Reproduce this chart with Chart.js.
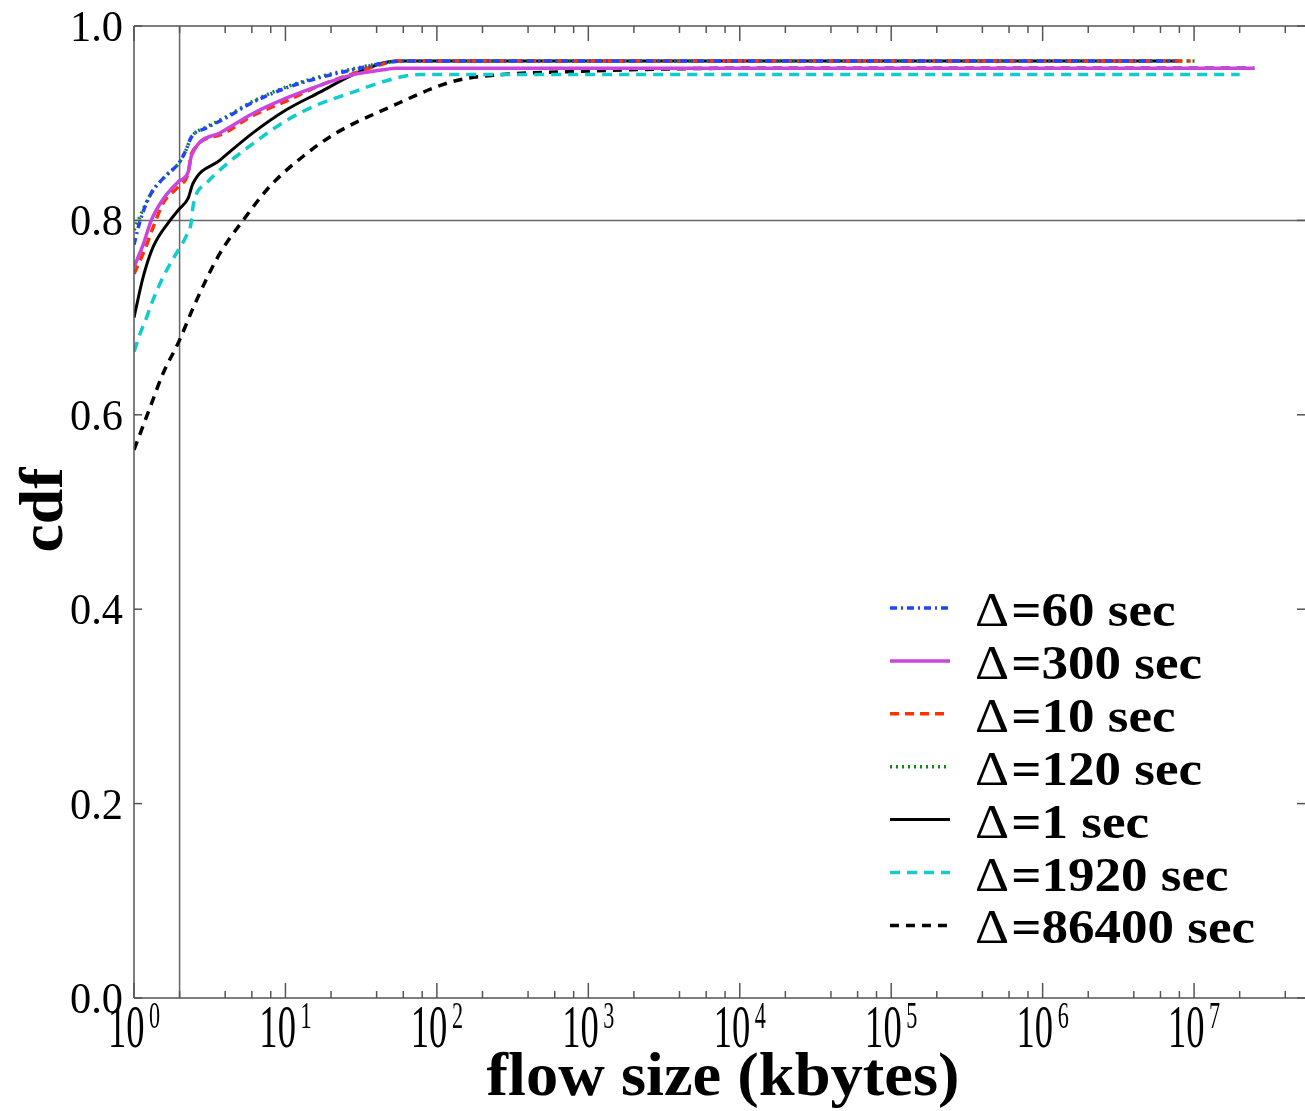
<!DOCTYPE html>
<html>
<head>
<meta charset="utf-8">
<script src="https://cdn.jsdelivr.net/npm/chart.js@4"></script>
<style>
  html, body { margin: 0; padding: 0; background: #fff; }
  #wrap { width: 1305px; height: 1111px; position: relative; }
</style>
</head>
<body>
<div id="wrap"><canvas id="cdfChart"></canvas></div>
<script>
// ---- data (flow size in kbytes, cdf) ----
const sizes60 = [1, 1.1, 1.3, 1.6, 2.0, 2.2, 2.4, 3.0, 4.0, 6.0, 10, 17, 28, 45, 60, 7.5e6];
const cdf60   = [0.775, 0.80, 0.828, 0.845, 0.860, 0.872, 0.886, 0.895, 0.905, 0.921, 0.936, 0.947, 0.955, 0.962, 0.964, 0.964];

const sizes300 = [1, 1.15, 1.3, 1.56, 1.97, 2.28, 2.4, 3.7, 6.1, 10.2, 16.9, 28, 44, 55, 2.5e7];
const cdf300   = [0.752, 0.775, 0.80, 0.822, 0.840, 0.850, 0.867, 0.890, 0.910, 0.926, 0.939, 0.950, 0.955, 0.9565, 0.9565];

const sizes10 = [1, 1.15, 1.34, 1.56, 1.97, 2.28, 2.4, 3.7, 6.1, 10.2, 16.9, 28, 42, 55, 9.5e6];
const cdf10   = [0.745, 0.766, 0.793, 0.818, 0.835, 0.849, 0.869, 0.888, 0.908, 0.923, 0.939, 0.951, 0.960, 0.964, 0.964];

const sizes120 = [1, 1.1, 1.3, 1.6, 2.0, 2.2, 2.4, 3.0, 4.0, 6.0, 10, 17, 28, 45, 60, 1.05e7];
const cdf120   = [0.79, 0.805, 0.828, 0.845, 0.860, 0.872, 0.886, 0.896, 0.906, 0.922, 0.937, 0.948, 0.956, 0.962, 0.964, 0.964];

const sizes1 = [1, 1.15, 1.34, 1.73, 1.97, 2.28, 2.45, 3.7, 6.1, 10.2, 16.9, 28, 44, 55, 8e6];
const cdf1   = [0.70, 0.742, 0.773, 0.80, 0.811, 0.823, 0.838, 0.862, 0.890, 0.914, 0.932, 0.950, 0.962, 0.964, 0.964];

const sizes1920 = [1, 1.1, 1.21, 1.31, 1.56, 1.97, 2.2, 2.4, 2.45, 3.0, 3.7, 6.1, 10.2, 16.9, 28, 47, 77, 2e7];
const cdf1920   = [0.665, 0.684, 0.70, 0.715, 0.742, 0.770, 0.783, 0.80, 0.814, 0.838, 0.852, 0.879, 0.903, 0.920, 0.932, 0.944, 0.950, 0.950];

const sizes86400 = [1, 1.1, 1.28, 1.56, 1.96, 2.59, 3.69, 5.25, 7.89, 13.1, 21.7, 46.5, 128, 270, 750, 2650, 1e4, 2.5e7];
const cdf86400   = [0.564, 0.581, 0.608, 0.643, 0.674, 0.718, 0.766, 0.80, 0.835, 0.866, 0.89, 0.915, 0.943, 0.950, 0.953, 0.9555, 0.9565, 0.9565];

const seriesLabels = ['Δ=60 sec', 'Δ=300 sec', 'Δ=10 sec', 'Δ=120 sec', 'Δ=1 sec', 'Δ=1920 sec', 'Δ=86400 sec'];

// axis ticks
const xDecades = [0, 1, 2, 3, 4, 5, 6, 7];
const xMinorMult = [2, 4, 6, 8];
const yTicks = [0, 0.2, 0.4, 0.6, 0.8, 1.0];
const yTickLabels = ['0.0', '0.2', '0.4', '0.6', '0.8', '1.0'];
const gridX = [2];
const gridY = [0.8];

function pts(xs, ys) {
  return xs.map((x, i) => ({ x: x, y: ys[i] }));
}

const datasets = [
  { label: seriesLabels[0], data: pts(sizes60, cdf60), borderColor: '#2244ff', borderWidth: 3.5, borderDash: [7, 4, 2, 4] },
  { label: seriesLabels[1], data: pts(sizes300, cdf300), borderColor: '#cc44dd', borderWidth: 3.5, borderDash: [] },
  { label: seriesLabels[2], data: pts(sizes10, cdf10), borderColor: '#ff3300', borderWidth: 3.5, borderDash: [9, 6] },
  { label: seriesLabels[3], data: pts(sizes120, cdf120), borderColor: '#118811', borderWidth: 3.5, borderDash: [2, 4] },
  { label: seriesLabels[4], data: pts(sizes1, cdf1), borderColor: '#000000', borderWidth: 3, borderDash: [] },
  { label: seriesLabels[5], data: pts(sizes1920, cdf1920), borderColor: '#11cccc', borderWidth: 3.5, borderDash: [10, 7] },
  { label: seriesLabels[6], data: pts(sizes86400, cdf86400), borderColor: '#000000', borderWidth: 3.5, borderDash: [9, 7] }
];
datasets.forEach(d => { d.fill = false; d.pointRadius = 0; d.cubicInterpolationMode = 'monotone'; });

const SERIF = '"Liberation Serif", "DejaVu Serif", serif';

function strokeLine(ctx, x1, y1, x2, y2) {
  ctx.beginPath(); ctx.moveTo(x1, y1); ctx.lineTo(x2, y2); ctx.stroke();
}

// draw text squeezed/stretched to a given width
function fitText(ctx, text, x, y, font, width, align) {
  ctx.font = font;
  const sx = width / ctx.measureText(text).width;
  ctx.save();
  ctx.translate(x, y);
  ctx.scale(sx, 1);
  ctx.textAlign = align;
  ctx.fillText(text, 0, 0);
  ctx.restore();
}

const framePlugin = {
  id: 'frame',
  beforeDatasetsDraw(chart) {
    const ctx = chart.ctx, xs = chart.scales.x, ys = chart.scales.y, a = chart.chartArea;
    ctx.save();
    ctx.strokeStyle = '#666';
    ctx.lineWidth = 1.5;
    gridX.forEach(v => { const p = xs.getPixelForValue(v); strokeLine(ctx, p, a.top, p, a.bottom); });
    gridY.forEach(v => { const p = ys.getPixelForValue(v); strokeLine(ctx, a.left, p, a.right, p); });
    ctx.restore();
  },
  afterDatasetsDraw(chart) {
    const ctx = chart.ctx, xs = chart.scales.x, ys = chart.scales.y, a = chart.chartArea;
    ctx.save();
    ctx.strokeStyle = '#555';
    ctx.lineWidth = 1.5;
    // frame: left, top, bottom (no right line)
    strokeLine(ctx, a.left, a.top, a.left, a.bottom);
    strokeLine(ctx, a.left, a.top, a.right, a.top);
    strokeLine(ctx, a.left, a.bottom, a.right, a.bottom);

    // x ticks, top and bottom, pointing inward
    xDecades.forEach(d => {
      const p = xs.getPixelForValue(Math.pow(10, d));
      strokeLine(ctx, p, a.bottom, p, a.bottom - 15);
      strokeLine(ctx, p, a.top, p, a.top + 15);
      xMinorMult.forEach(m => {
        const v = m * Math.pow(10, d);
        if (v > xs.max) return;
        const q = xs.getPixelForValue(v);
        strokeLine(ctx, q, a.bottom, q, a.bottom - 7);
        strokeLine(ctx, q, a.top, q, a.top + 7);
      });
    });
    // y ticks, left and right
    yTicks.forEach(v => {
      const p = ys.getPixelForValue(v);
      strokeLine(ctx, a.left, p, a.left + 8, p);
      strokeLine(ctx, a.right, p, a.right - 8, p);
    });

    ctx.fillStyle = '#000';
    ctx.textBaseline = 'alphabetic';

    // y tick labels
    yTicks.forEach((v, i) => {
      const p = ys.getPixelForValue(v);
      fitText(ctx, yTickLabels[i], a.left - 11, p + 15, '45px ' + SERIF, 53, 'right');
    });

    // x tick labels 10^d
    xDecades.forEach(d => {
      const p = xs.getPixelForValue(Math.pow(10, d));
      ctx.font = '61px ' + SERIF;
      const wBase = ctx.measureText('10').width * 0.6;
      ctx.font = '37px ' + SERIF;
      const wSup = ctx.measureText(String(d)).width * 0.6;
      const start = p - (wBase + 4.5 + wSup) / 2;
      ctx.save(); ctx.translate(start, 1047); ctx.scale(0.6, 1);
      ctx.font = '61px ' + SERIF; ctx.textAlign = 'left'; ctx.fillText('10', 0, 0);
      ctx.restore();
      ctx.save(); ctx.translate(start + wBase + 4.5, 1028); ctx.scale(0.6, 1);
      ctx.font = '37px ' + SERIF; ctx.textAlign = 'left'; ctx.fillText(String(d), 0, 0);
      ctx.restore();
    });

    // axis titles
    fitText(ctx, 'flow size (kbytes)', 723, 1095, 'bold 62px ' + SERIF, 473, 'center');
    ctx.save();
    ctx.translate(62, 510);
    ctx.rotate(-Math.PI / 2);
    fitText(ctx, 'cdf', 0, 0, 'bold 62px ' + SERIF, 85, 'center');
    ctx.restore();

    // legend: thin Delta, rest in bold
    const boldFont = 'bold 48px ' + SERIF;
    const deltaFont = '48px ' + SERIF;
    ctx.font = boldFont;
    const legScale = 277 / ctx.measureText(seriesLabels[6]).width;
    chart.data.datasets.forEach((ds, i) => {
      const y = 608 + i * 52.9;
      ctx.save();
      ctx.strokeStyle = ds.borderColor;
      ctx.lineWidth = ds.borderWidth;
      ctx.setLineDash(ds.borderDash);
      strokeLine(ctx, 890, y, 950, y);
      ctx.restore();
      const head = ds.label.slice(0, 1);
      const rest = ds.label.slice(1);
      ctx.save();
      ctx.translate(975, y + 18);
      ctx.scale(legScale, 1);
      ctx.textAlign = 'left';
      ctx.font = deltaFont;
      ctx.fillText(head, 0, 0);
      const wHead = ctx.measureText(head).width;
      ctx.font = boldFont;
      ctx.fillText(rest, wHead + 2, 0);
      ctx.restore();
    });
    ctx.restore();
  }
};

new Chart(document.getElementById('cdfChart').getContext('2d'), {
  type: 'line',
  data: { datasets: datasets },
  options: {
    responsive: true,
    maintainAspectRatio: false,
    animation: false,
    layout: { padding: { left: 134, top: 26, right: 0, bottom: 113 } },
    plugins: { legend: { display: false }, tooltip: { enabled: false } },
    scales: {
      x: { type: 'logarithmic', min: 1, max: 5.4e7, display: false },
      y: { type: 'linear', min: 0, max: 1, display: false }
    }
  },
  plugins: [framePlugin]
});
</script>
</body>
</html>
